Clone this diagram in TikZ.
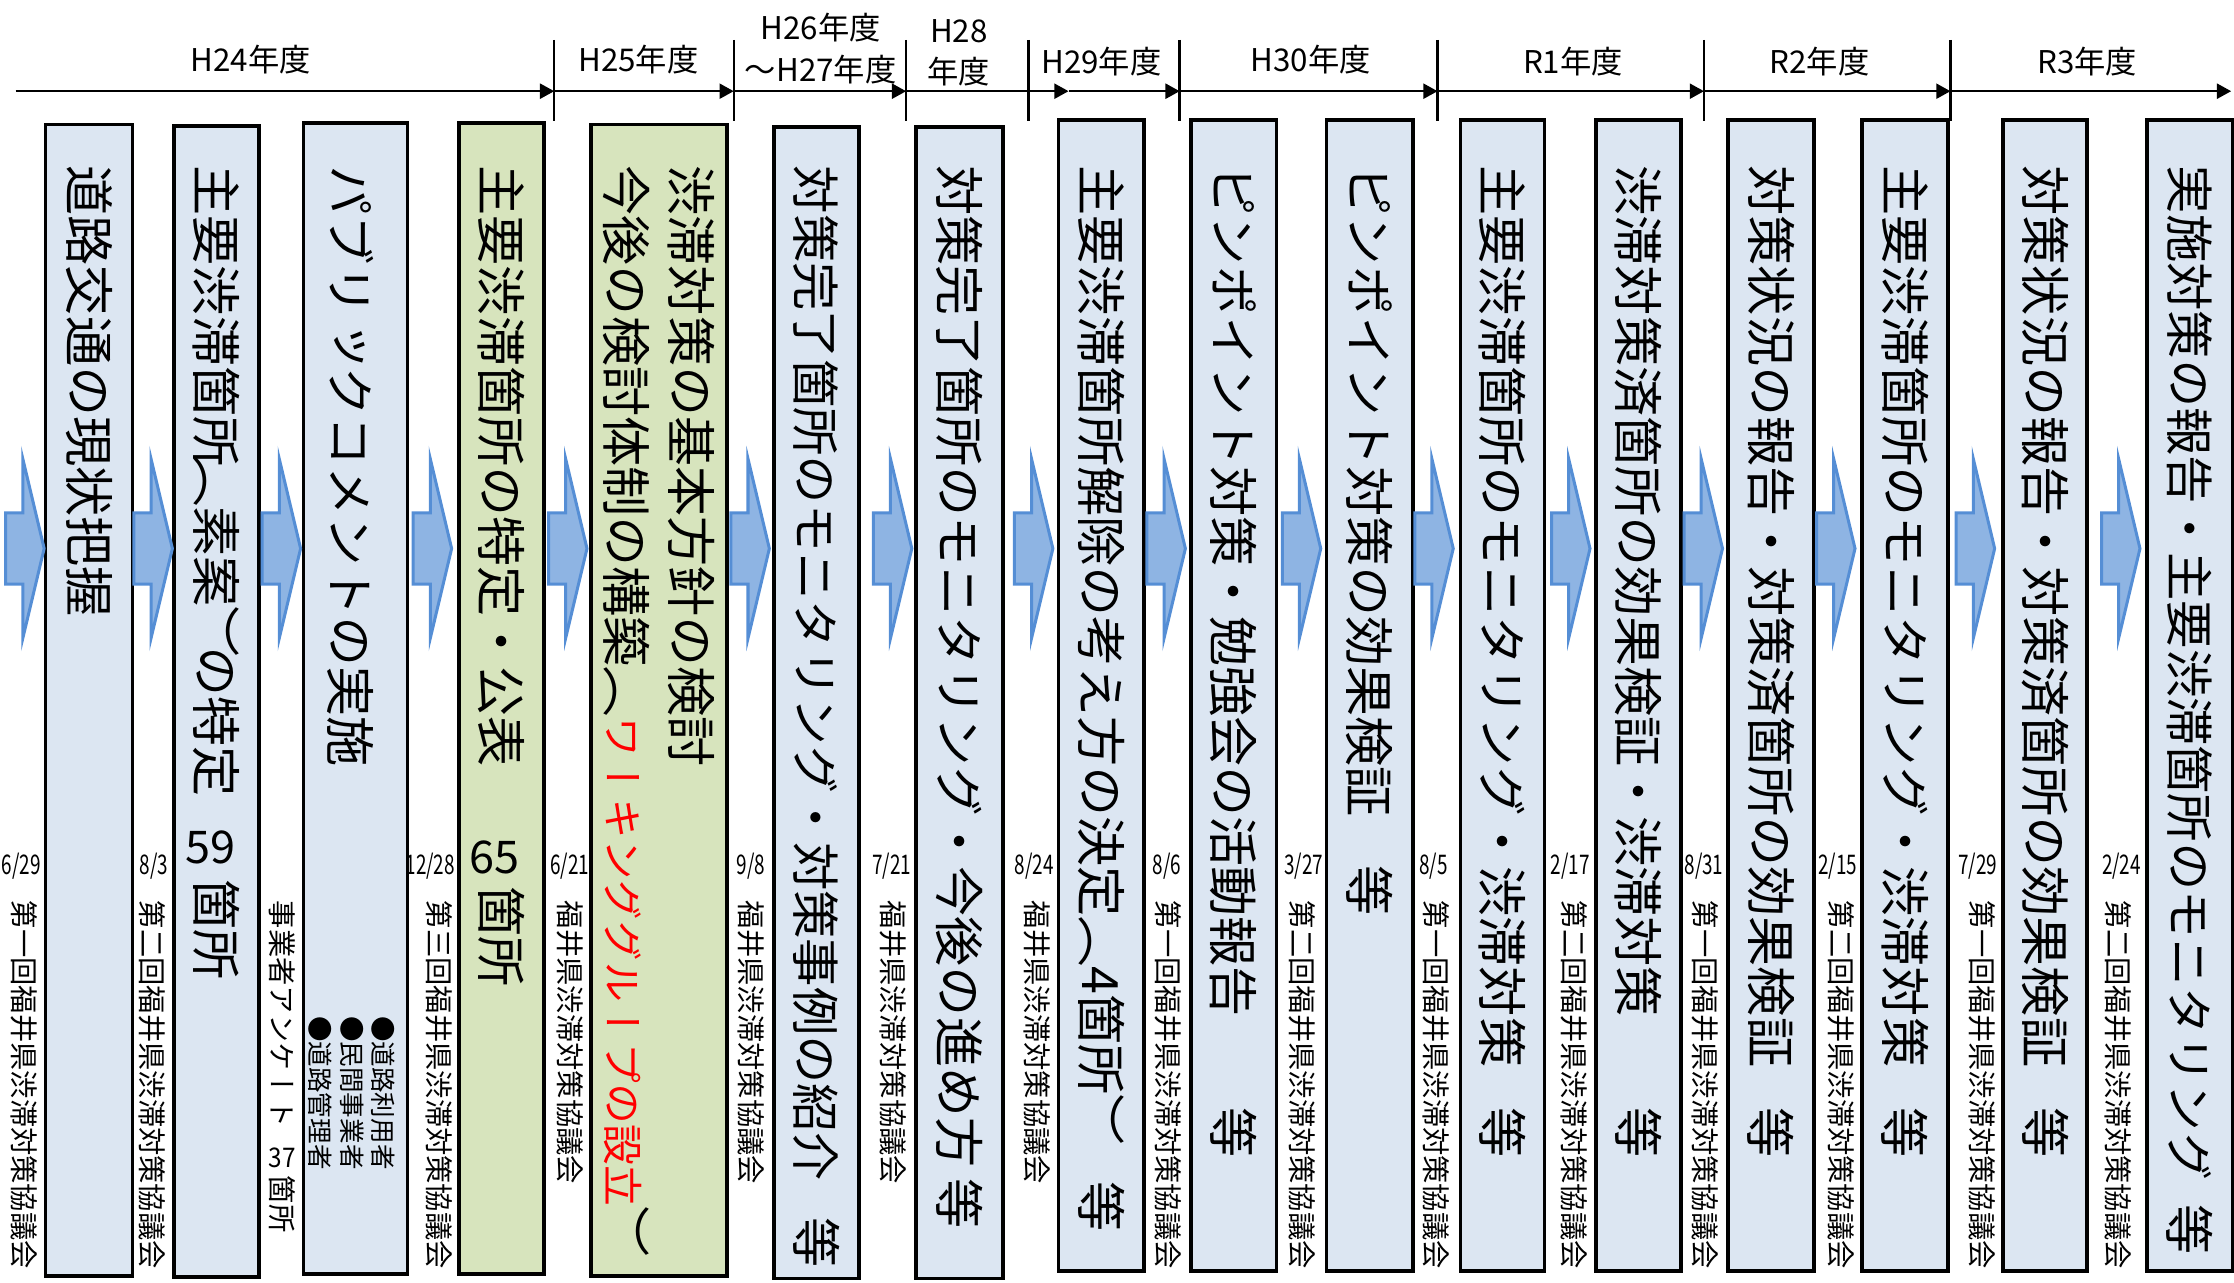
\documentclass[tikz,border=0pt]{standalone}
\usepackage{fontspec}
\setmainfont{Noto Sans CJK JP}
\newfontfamily\tatefont[Vertical=RotatedGlyphs]{Noto Sans CJK JP}
\usetikzlibrary{positioning}
\usetikzlibrary{arrows.meta}

\definecolor{boxblue}{HTML}{DCE6F2}
\definecolor{boxgreen}{HTML}{D7E4BD}
\definecolor{arrfill}{HTML}{8EB4E3}
\definecolor{arrline}{HTML}{558ED5}

\tikzset{
  stage/.style={draw, line width=1.5pt, fill=boxblue, anchor=north, minimum width=12mm, minimum height=161.6mm, inner sep=0pt},
  tate/.style={rotate=-90, anchor=west, inner sep=0pt, font=\tatefont\fontsize{20}{24}\selectfont},
  tatesmall/.style={tate, font=\tatefont\fontsize{11.3}{13}\selectfont},
  flowarrow/.style={fill=arrfill, draw=arrline, line width=1.2pt},
  yearline/.style={line width=1pt, -{Triangle[length=2mm,width=2.1mm]}},
  yearsep/.style={line width=1pt},
  yearlabel/.style={inner sep=0pt, font=\fontsize{12.5}{16.5}\selectfont, align=center},
  datelabel/.style={inner sep=0pt, font=\fontsize{10.8}{12}\selectfont},
}

\begin{document}
\begin{tikzpicture}[x=0.2mm, y=-0.2mm]
\useasboundingbox (0,0) rectangle (1568,900);

% time line
\coordinate (s0) at (11,64);
\coordinate (s1) at (389,64);
\coordinate (s2) at (515,64);
\coordinate (s3) at (636,64);
\coordinate (s4) at (750,64);
\coordinate (s5) at (828,64);
\coordinate (s6) at (1009,64);
\coordinate (s7) at (1196,64);
\coordinate (s8) at (1369,64);
\coordinate (s9) at (1566,64);
\foreach \a/\b in {s0/s1,s1/s2,s2/s3,s3/s4,s4/s5,s5/s6,s6/s7,s7/s8,s8/s9}
  \draw[yearline] (\a) -- (\b);
\foreach \x in {389,515,636,722,828,1009,1196,1369}
  \draw[yearsep] (\x,28) -- (\x,85);

\node[yearlabel] (h24) at (176,42) {H24年度};
\node[yearlabel] (h25) at (448,42) {H25年度};
\node[yearlabel] (h26) at (576,34) {H26年度\\～H27年度};
\node[yearlabel] (h28) at (673,37) {H28\\年度};
\node[yearlabel] (h29) at (773,43) {H29年度};
\node[yearlabel] (h30) at (920,42) {H30年度};
\node[yearlabel] (r1) at (1104,43) {R1年度};
\node[yearlabel] (r2) at (1277,43) {R2年度};
\node[yearlabel] (r3) at (1465,43) {R3年度};

% stages
\node[stage, minimum width=12.2mm] (b1) at (62.5,86) {};
\node[stage] (b2) at (152,87) {};
\node[stage, minimum width=14.6mm] (b3) at (249.5,85) {};
\node[stage, fill=boxgreen] (b4) at (352,85) {};
\node[stage, fill=boxgreen, minimum width=19mm] (b5) at (462.5,86) {};
\node[stage] (b6) at (573,88) {};
\node[stage, minimum width=12.2mm] (b7) at (673.5,88) {};
\node[stage] (b8) at (773,83) {};
\node[stage] (b9) at (866,83) {};
\node[stage, minimum width=12.2mm] (b10) at (961.5,83) {};
\node[stage, minimum width=11.8mm] (b11) at (1054.5,83) {};
\node[stage] (b12) at (1150,83) {};
\node[stage] (b13) at (1243,83) {};
\node[stage] (b14) at (1337,83) {};
\node[stage, minimum width=11.8mm] (b15) at (1435.5,83) {};
\node[stage] (b16) at (1537,83) {};

% flow arrows
\foreach \t in {31,121,211,317,412,540,640,739,832,927,1020,1116,1209,1302,1400,1502}
  \draw[flowarrow] (\t-27,360) -- (\t-15,360) -- (\t-15,322) -- (\t,385)
    -- (\t-15,448) -- (\t-15,410) -- (\t-27,410) -- cycle;

% stage texts
\node[tate] (t1) at (62.5,116) {道路交通の現状把握};
\node[tate] (t2) at (152,116) {主要渋滞箇所\kern-.2em（素案）\kern-.2em の特定};
\node[inner sep=0pt, font=\fontsize{18}{20}\selectfont] (n2) at (148,595) {59};
\node[tate] (k2) at (152,617) {箇所};
\node[tate] (t3) at (246,116) {パブリックコメントの実施};
\node[tate] (t4) at (352,116) {主要渋滞箇所の特定・公表};
\node[inner sep=0pt, font=\fontsize{18}{20}\selectfont] (n4) at (347,602) {65};
\node[tate] (k4) at (352,622) {箇所};
\node[tate] (t5a) at (485,116) {渋滞対策の基本方針の検討};
\node[tate] (t5b) at (440,116) {今後の検討体制の構築（{\color{red}\fontsize{16.3}{20}\selectfont ワーキンググループの設立}）};
\node[tate, font=\tatefont\fontsize{19.3}{24}\selectfont] (t6) at (573,116) {対策完了箇所のモニタリング・対策事例の紹介};
\node[tate, anchor=center] (e6) at (573,872) {等};
\node[tate] (t7) at (673.5,116) {対策完了箇所のモニタリング・今後の進め方};
\node[tate, anchor=center] (e7) at (673.5,845) {等};
\node[tate] (t8) at (773,116) {主要渋滞箇所解除の考え方の決定（4箇所）};
\node[tate, anchor=center] (e8) at (773,847) {等};
\node[tate] (t9) at (866,116) {ピンポイント対策・勉強会の活動報告};
\node[tate, anchor=center] (e9) at (866,795) {等};
\node[tate] (t10) at (961.5,116) {ピンポイント対策の効果検証};
\node[tate, anchor=center] (e10) at (961.5,625) {等};
\node[tate] (t11) at (1054.5,116) {主要渋滞箇所のモニタリング・渋滞対策};
\node[tate, anchor=center] (e11) at (1054.5,795) {等};
\node[tate] (t12) at (1150,116) {渋滞対策済箇所の効果検証・渋滞対策};
\node[tate, anchor=center] (e12) at (1150,795) {等};
\node[tate] (t13) at (1243,116) {対策状況の報告・対策済箇所の効果検証};
\node[tate, anchor=center] (e13) at (1243,795) {等};
\node[tate] (t14) at (1337,116) {主要渋滞箇所のモニタリング・渋滞対策};
\node[tate, anchor=center] (e14) at (1337,795) {等};
\node[tate] (t15) at (1435.5,116) {対策状況の報告・対策済箇所の効果検証};
\node[tate, anchor=center] (e15) at (1435.5,795) {等};
\node[tate, font=\tatefont\fontsize{19.3}{24}\selectfont] (t16) at (1537,116) {実施対策の報告・主要渋滞箇所のモニタリング};
\node[tate, anchor=center] (e16) at (1537,863) {等};

% survey
\node[tatesmall] (q1) at (198,632) {事業者アンケート};
\node[datelabel] (q2) at (198,813) {\scalebox{0.9}[1]{37}};
\node[tatesmall] (q3) at (198,825) {箇所};
\node[tatesmall, font=\tatefont\fontsize{10.2}{12}\selectfont] (p1) at (269,713) {●道路利用者};
\node[tatesmall, font=\tatefont\fontsize{10.2}{12}\selectfont] (p2) at (247,713) {●民間事業者};
\node[tatesmall, font=\tatefont\fontsize{10.2}{12}\selectfont] (p3) at (225,713) {●道路管理者};

% meetings
\foreach \x/\xd/\d/\m [count=\i] in {17/15/{6/29}/第一回, 107/108/{8/3}/第二回, 308/302/{12/28}/第三回,
    400/400/{6/21}/{}, 527/527/{9/8}/{}, 627/626/{7/21}/{}, 728/726/{8/24}/{},
    820/819/{8/6}/第一回, 914/915/{3/27}/第二回, 1008/1006/{8/5}/第一回, 1105/1102/{2/17}/第二回,
    1197/1196/{8/31}/第一回, 1292/1290/{2/15}/第二回, 1391/1388/{7/29}/第一回, 1487/1489/{2/24}/第二回}
{
  \node[datelabel] (d\i) at (\xd,608) {\scalebox{0.7}[1]{\d}};
  \node[tatesmall] (m\i) at (\x,632) {\m 福井県渋滞対策協議会};
}
\end{tikzpicture}
\end{document}
